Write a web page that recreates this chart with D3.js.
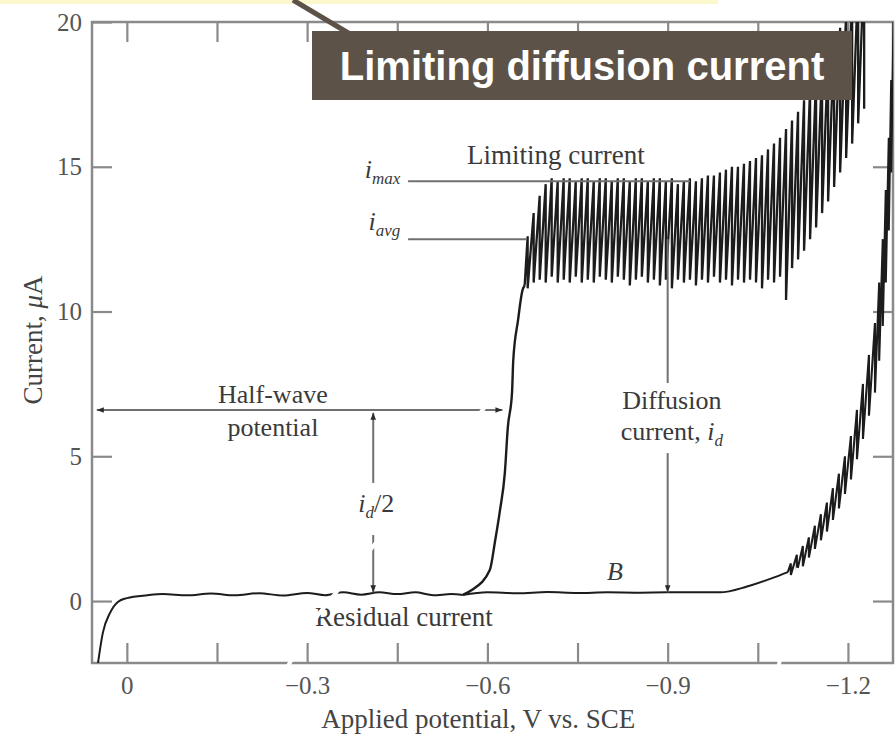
<!DOCTYPE html>
<html>
<head>
<meta charset="utf-8">
<script src="https://cdn.jsdelivr.net/npm/d3@7"></script>
<style>
  body { margin: 0; background: #fff; }
  svg { display: block; }
  .serif { font-family: "Liberation Serif", "Times New Roman", serif; }
</style>
</head>
<body>
<div id="chart"></div>
<script>
// ---- data (potential in V vs SCE, current in microamps) ----
const xTicks = [0, -0.15, -0.3, -0.45, -0.6, -0.75, -0.9, -1.05, -1.2];
const xTickLabels = {"0": "0", "-0.3": "\u22120.3", "-0.6": "\u22120.6", "-0.9": "\u22120.9", "-1.2": "\u22121.2"};
const yTicks = [0, 5, 10, 15, 20];

// start of scan + flat residual part (shared by both traces)
const baseCurve = [[0.048, -2.14], [0.04, -1.1], [0.028, -0.41], [0.015, -0.03], [0.0, 0.1],
  [-0.034, 0.2], [-0.06, 0.24], [-0.1, 0.2], [-0.14, 0.26], [-0.18, 0.2], [-0.22, 0.27],
  [-0.26, 0.19], [-0.3, 0.28], [-0.33, 0.2], [-0.36, 0.3], [-0.39, 0.22], [-0.42, 0.3],
  [-0.45, 0.24], [-0.48, 0.3], [-0.51, 0.2], [-0.54, 0.24], [-0.559, 0.21]];

// rising part of the wave
const waveRise = [[-0.559, 0.21], [-0.574, 0.38], [-0.604, 1.07], [-0.613, 2.1], [-0.621, 3.14],
  [-0.629, 4.42], [-0.634, 6.0], [-0.641, 7.2], [-0.643, 8.3], [-0.651, 9.7], [-0.658, 10.7], [-0.662, 10.9]];

// mercury drops on the plateau: potential at drop fall, current max, current min
const dropV = [-0.667, -0.677, -0.687, -0.697, -0.707, -0.717, -0.727, -0.737, -0.747, -0.757,
  -0.767, -0.777, -0.787, -0.797, -0.807, -0.817, -0.827, -0.837, -0.847, -0.857,
  -0.867, -0.877, -0.887, -0.897, -0.907, -0.917, -0.927, -0.937, -0.947, -0.957,
  -0.967, -0.977, -0.987, -0.997, -1.007, -1.017, -1.027, -1.037, -1.047, -1.057,
  -1.067, -1.077, -1.087, -1.097, -1.107, -1.117, -1.127, -1.137, -1.147, -1.157,
  -1.167, -1.177, -1.187, -1.197, -1.207, -1.217, -1.227];
const dropHi = [12.6, 13.4, 14.0, 14.4, 14.6, 14.5, 14.6, 14.6, 14.5, 14.6,
  14.6, 14.5, 14.6, 14.6, 14.5, 14.6, 14.6, 14.5, 14.6, 14.6,
  14.5, 14.6, 14.6, 14.5, 14.6, 14.4, 14.5, 14.6, 14.5, 14.6,
  14.7, 14.7, 14.8, 14.9, 15.0, 15.0, 15.1, 15.2, 15.3, 15.4,
  15.6, 15.8, 16.0, 16.3, 16.6, 16.9, 17.3, 17.7, 18.1, 18.5,
  18.9, 19.4, 19.8, 20.3, 20.8, 21.5, 22.0];
const dropLo = [10.8, 11.0, 11.1, 11.0, 11.2, 11.0, 11.1, 11.0, 11.2, 11.0,
  11.1, 11.0, 11.2, 11.1, 11.0, 11.2, 11.1, 10.9, 11.1, 11.2,
  11.0, 11.1, 10.9, 11.1, 10.8, 11.1, 11.0, 11.1, 10.9, 11.1,
  11.0, 11.2, 11.0, 11.1, 10.9, 11.1, 11.0, 11.1, 11.0, 10.8,
  11.1, 11.0, 11.2, 10.4, 11.5, 11.8, 12.1, 12.5, 12.9, 13.4,
  13.8, 14.3, 14.8, 15.3, 15.8, 16.5, 17.0];

// residual current beyond the wave (point B) and its rise at the end
const residualCurve = [[-0.559, 0.21], [-0.6, 0.3], [-0.65, 0.27], [-0.7, 0.31], [-0.75, 0.28],
  [-0.8, 0.3], [-0.85, 0.29], [-0.9, 0.3], [-0.95, 0.3], [-0.987, 0.3], [-1.032, 0.5],
  [-1.075, 0.8], [-1.1, 1.0]];
const resDropV = [-1.105, -1.115, -1.125, -1.135, -1.145, -1.155, -1.165, -1.175, -1.185, -1.195,
  -1.205, -1.215, -1.225, -1.235, -1.245, -1.252, -1.258, -1.263, -1.268, -1.272, -1.276];
const resDropHi = [1.3, 1.6, 1.9, 2.2, 2.6, 3.0, 3.4, 3.9, 4.4, 5.0,
  5.7, 6.6, 7.5, 8.5, 9.6, 11.0, 12.5, 14.2, 16.0, 18.0, 20.2];
const resDropLo = [0.9, 1.0, 1.2, 1.5, 1.8, 2.1, 2.4, 2.8, 3.2, 3.7,
  4.2, 4.9, 5.6, 6.4, 7.2, 8.3, 9.5, 11.0, 12.8, 14.8, 17.0];

// annotation levels
const iMax = 14.5, iAvg = 12.5, iHalf = 6.6, iResidual = 0.3;
const eHalf = -0.41, eDiff = -0.9;

// ---- drawing ----
const W = 896, H = 739;
const margin = {left: 92, right: 3, top: 22, bottom: 76};

const svg = d3.select("#chart").append("svg")
  .attr("width", W).attr("height", H)
  .attr("viewBox", [0, 0, W, H]);

const x = d3.scaleLinear().domain([0.058, -1.275]).range([margin.left, W - margin.right]);
const y = d3.scaleLinear().domain([-2.14, 20]).range([H - margin.bottom, margin.top]);

const axisColor = "#8a8a8a";
const inkColor = "#1c1c1c";
const textColor = "#3a3a3a";

svg.append("defs").append("clipPath").attr("id", "plot")
  .append("rect")
  .attr("x", x.range()[0]).attr("y", y.range()[1])
  .attr("width", x.range()[1] - x.range()[0])
  .attr("height", y.range()[0] - y.range()[1]);

const defs = svg.select("defs");
defs.append("marker")
  .attr("id", "arrow")
  .attr("viewBox", "0 0 10 10")
  .attr("refX", 10).attr("refY", 5)
  .attr("markerWidth", 9).attr("markerHeight", 7)
  .attr("markerUnits", "userSpaceOnUse")
  .attr("orient", "auto-start-reverse")
  .append("path").attr("d", "M0,1 L10,5 L0,9 z").attr("fill", "#2a2a2a");

// frame
svg.append("rect")
  .attr("x", x.range()[0]).attr("y", y.range()[1])
  .attr("width", x.range()[1] - x.range()[0])
  .attr("height", y.range()[0] - y.range()[1])
  .attr("fill", "none").attr("stroke", axisColor).attr("stroke-width", 2.5);

function styleAxis(g) {
  g.select(".domain").remove();
  g.selectAll(".tick line").attr("stroke", axisColor).attr("stroke-width", 2.2);
  g.selectAll(".tick text")
    .attr("class", "serif")
    .attr("fill", "#555")
    .attr("font-size", 25);
}

svg.append("g")
  .attr("transform", `translate(0,${y.range()[0]})`)
  .call(d3.axisBottom(x).tickValues(xTicks).tickSize(-20).tickPadding(13)
    .tickFormat(d => xTickLabels[String(+d.toFixed(2))] || ""))
  .call(styleAxis);

svg.append("g")
  .attr("transform", `translate(0,${y.range()[1]})`)
  .call(d3.axisTop(x).tickValues(xTicks).tickSize(-20).tickFormat(""))
  .call(styleAxis);

svg.append("g")
  .attr("transform", `translate(${x.range()[0]},0)`)
  .call(d3.axisLeft(y).tickValues(yTicks).tickSize(-20).tickPadding(10))
  .call(styleAxis);

svg.append("g")
  .attr("transform", `translate(${x.range()[1]},0)`)
  .call(d3.axisRight(y).tickValues(yTicks.slice(0, 4)).tickSize(-20).tickFormat(""))
  .call(styleAxis);

// axis titles
svg.append("text")
  .attr("class", "serif")
  .attr("x", x(-0.585))
  .attr("y", 728)
  .attr("text-anchor", "middle")
  .attr("font-size", 27)
  .attr("fill", "#444")
  .text("Applied potential, V vs. SCE");

const yTitle = svg.append("text")
  .attr("class", "serif")
  .attr("transform", "translate(42,340) rotate(-90)")
  .attr("text-anchor", "middle")
  .attr("font-size", 27)
  .attr("fill", "#444");
yTitle.append("tspan").text("Current, ");
yTitle.append("tspan").attr("font-style", "italic").text("\u03bc");
yTitle.append("tspan").text("A");

// traces
const plot = svg.append("g").attr("clip-path", "url(#plot)");
const smooth = d3.line().x(d => x(d[0])).y(d => y(d[1])).curve(d3.curveMonotoneX);
const straight = d3.line().x(d => x(d[0])).y(d => y(d[1]));

function sawtooth(start, vs, his, los) {
  const pts = [start];
  vs.forEach((v, i) => { pts.push([v, his[i]]); pts.push([v, los[i]]); });
  return pts;
}

plot.append("path").attr("d", smooth(baseCurve))
  .attr("fill", "none").attr("stroke", inkColor).attr("stroke-width", 2);
plot.append("path").attr("d", smooth(waveRise))
  .attr("fill", "none").attr("stroke", inkColor).attr("stroke-width", 2.4);
plot.append("path").attr("d", straight(sawtooth(waveRise[waveRise.length - 1], dropV, dropHi, dropLo)))
  .attr("fill", "none").attr("stroke", inkColor).attr("stroke-width", 2.3);
plot.append("path").attr("d", smooth(residualCurve))
  .attr("fill", "none").attr("stroke", inkColor).attr("stroke-width", 2);
plot.append("path").attr("d", straight(sawtooth(residualCurve[residualCurve.length - 1], resDropV, resDropHi, resDropLo)))
  .attr("fill", "none").attr("stroke", inkColor).attr("stroke-width", 2.1);

// annotation lines
const ann = svg.append("g").attr("stroke", "#707070").attr("stroke-width", 2).attr("fill", "none");
ann.append("line").attr("x1", x(-0.468)).attr("x2", x(-0.937)).attr("y1", y(iMax)).attr("y2", y(iMax));
ann.append("line").attr("x1", x(-0.468)).attr("x2", x(-0.666)).attr("y1", y(iAvg)).attr("y2", y(iAvg));
ann.append("line").attr("x1", x(0.05)).attr("x2", x(-0.625)).attr("y1", y(iHalf)).attr("y2", y(iHalf))
  .attr("marker-start", "url(#arrow)").attr("marker-end", "url(#arrow)");
ann.append("line").attr("x1", x(eHalf)).attr("x2", x(eHalf)).attr("y1", y(4.08)).attr("y2", y(iHalf - 0.1))
  .attr("marker-end", "url(#arrow)");
ann.append("line").attr("x1", x(eHalf)).attr("x2", x(eHalf)).attr("y1", y(2.28)).attr("y2", y(iResidual))
  .attr("marker-end", "url(#arrow)");
ann.append("line").attr("x1", x(eDiff)).attr("x2", x(eDiff)).attr("y1", y(iAvg)).attr("y2", y(7.53));
ann.append("line").attr("x1", x(eDiff)).attr("x2", x(eDiff)).attr("y1", y(5.11)).attr("y2", y(iResidual))
  .attr("marker-end", "url(#arrow)");

// annotation text
const notes = svg.append("g").attr("class", "serif").attr("fill", textColor).attr("font-size", 26);

notes.append("text").attr("x", x(-0.714)).attr("y", y(15.1)).attr("text-anchor", "middle")
  .attr("font-size", 27).text("Limiting current");

function subLabel(sel, main, sub, tail) {
  sel.append("tspan").attr("font-style", "italic").text(main);
  sel.append("tspan").attr("font-style", "italic").attr("font-size", 17).attr("dy", 6).text(sub);
  if (tail) sel.append("tspan").attr("dy", -6).text(tail);
  return sel;
}
subLabel(notes.append("text").attr("x", x(-0.455)).attr("y", y(14.6)).attr("text-anchor", "end"), "i", "max");
subLabel(notes.append("text").attr("x", x(-0.455)).attr("y", y(12.8)).attr("text-anchor", "end"), "i", "avg");

notes.append("text").attr("x", x(-0.243)).attr("y", y(6.84)).attr("text-anchor", "middle").text("Half-wave");
notes.append("text").attr("x", x(-0.243)).attr("y", y(5.7)).attr("text-anchor", "middle").text("potential");

subLabel(notes.append("text").attr("x", x(eHalf - 0.005)).attr("y", y(3.07)).attr("text-anchor", "middle"), "i", "d", "/2");

notes.append("text").attr("x", x(-0.907)).attr("y", y(6.63)).attr("text-anchor", "middle").text("Diffusion");
const cur = notes.append("text").attr("x", x(-0.907)).attr("y", y(5.56)).attr("text-anchor", "middle");
cur.append("tspan").text("current, ");
subLabel(cur, "i", "d");

notes.append("text").attr("x", x(-0.799)).attr("y", y(0.73)).attr("font-style", "italic").text("B");
notes.append("text").attr("x", x(-0.461)).attr("y", y(-0.86)).attr("text-anchor", "middle")
  .attr("font-size", 27).text("Residual current");

// white scratches crossing the scan
const scratch = d3.line();
svg.append("path").attr("d", scratch([[262, 710], [318, 615], [497, 392]]))
  .attr("fill", "none").attr("stroke", "#fff").attr("stroke-width", 4);
svg.append("path").attr("d", scratch([[771, 705], [798, 568]]))
  .attr("fill", "none").attr("stroke", "#fff").attr("stroke-width", 4);

// slide overlay: yellow strip and callout
svg.append("rect").attr("x", 0).attr("y", 0).attr("width", 718).attr("height", 4).attr("fill", "#fcf8cc");
svg.append("line").attr("x1", 293).attr("y1", 0).attr("x2", 350).attr("y2", 34)
  .attr("stroke", "#5c5248").attr("stroke-width", 5);
svg.append("rect").attr("x", 312).attr("y", 31).attr("width", 540).attr("height", 69).attr("fill", "#5c5248");
svg.append("text")
  .attr("x", 582).attr("y", 80)
  .attr("text-anchor", "middle")
  .attr("font-family", "'Liberation Sans', Arial, sans-serif")
  .attr("font-weight", "bold")
  .attr("font-size", 40)
  .attr("fill", "#fff")
  .text("Limiting diffusion current");
</script>
</body>
</html>
